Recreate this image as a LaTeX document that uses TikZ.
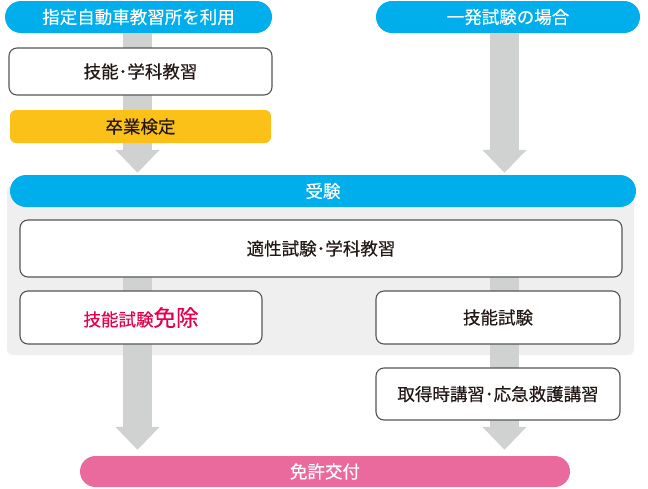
\documentclass[tikz,border=0pt]{standalone}
\usepackage{fontspec}
\setmainfont{Noto Sans CJK JP}[FakeBold=0.35]
\usetikzlibrary{arrows.meta}
\definecolor{pillblue}{HTML}{00AEEB}
\definecolor{pillyellow}{HTML}{FBC118}
\definecolor{pillpink}{HTML}{EA6A9E}
\definecolor{arrowgray}{HTML}{D0D1D1}
\definecolor{panelgray}{HTML}{EFEFEF}
\definecolor{boxedge}{HTML}{555555}
\definecolor{txt}{HTML}{231815}
\definecolor{redtxt}{HTML}{E5004F}
\tikzset{
  pill/.style={fill=pillblue, text=white, rounded corners=16pt, minimum height=32pt, inner sep=0pt,
    font=\fontsize{17.5}{19}\selectfont},
  wbox/.style={draw=boxedge, line width=1.1pt, fill=white, rounded corners=8pt, inner sep=0pt, text=txt,
    font=\fontsize{17.5}{19}\selectfont},
  bigarrow/.style={draw=arrowgray, line width=29pt, -{Triangle[width=43pt,length=23pt]}, color=arrowgray},
}
\begin{document}
\begin{tikzpicture}[x=1pt,y=-1pt]
\useasboundingbox (0,0) rectangle (648,488);
\coordinate (aL) at (137.5,0);
\coordinate (aR) at (504.5,0);
% grey panel
\fill[panelgray, rounded corners=6pt] (7,185) rectangle (634,355);
% top nodes
\node[pill, minimum width=267pt] (top1) at (138.5,17) {指定自動車教習所を利用};
\node[pill, minimum width=264pt] (top2) at (508,17) {一発試験の場合};
\node[pill, minimum width=626pt] (juken) at (323,191) {受験};
\node[pill, fill=pillpink, minimum width=490pt, minimum height=31pt, rounded corners=15.5pt] (kofu) at (325,471.5) {免許交付};
% arrows (behind boxes)
\draw[bigarrow] (top1.south -| aL) -- ([yshift=2pt]juken.north -| aL);
\draw[bigarrow] (top2.south -| aR) -- ([yshift=2pt]juken.north -| aR);
\coordinate (sL) at (137.5,277);
\coordinate (sR) at (504.5,277);
\draw[bigarrow] (sL) -- ([yshift=6pt]kofu.north -| aL);
\draw[bigarrow] (sR) -- ([yshift=6pt]kofu.north -| aR);
% boxes
\node[wbox, minimum width=263pt, minimum height=47pt] (kyoshu) at (140.5,71.5) {技能･学科教習};
\node[fill=pillyellow, rounded corners=6pt, inner sep=0pt, text=txt, font=\fontsize{17.5}{19}\selectfont,
  minimum width=261pt, minimum height=33pt] (sotsu) at (140.5,126.5) {卒業検定};
\node[wbox, minimum width=602pt, minimum height=57pt] (tekisei) at (321,248.5) {適性試験･学科教習};
\node[wbox, minimum width=242pt, minimum height=53pt, text=redtxt] (menjo) at (141,317.5)
  {技能試験{\fontsize{22.5}{24}\selectfont 免除}};
\node[wbox, minimum width=244pt, minimum height=53pt] (gino) at (498,317.5) {技能試験};
\node[wbox, minimum width=244pt, minimum height=52pt] (koshu) at (498,394) {取得時講習･応急救護講習};
\end{tikzpicture}
\end{document}
